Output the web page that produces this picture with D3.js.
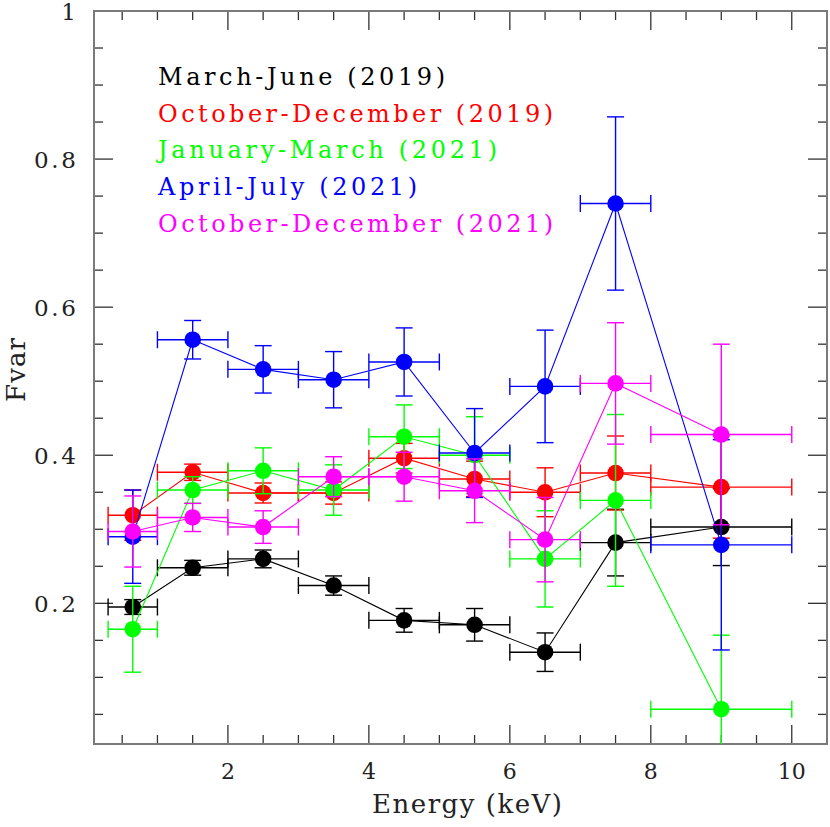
<!DOCTYPE html>
<html><head><meta charset="utf-8">
<script src="https://cdn.jsdelivr.net/npm/d3@7"></script>
<style>html,body{margin:0;padding:0;background:#fff;}</style>
</head><body>
<svg id="chart" width="830" height="827"></svg>
<script>
// ---- data ----
const energyCenters = [0.65, 1.5, 2.5, 3.5, 4.5, 5.5, 6.5, 7.5, 9.0];
const energyLow     = [0.3, 1, 2, 3, 4, 5, 6, 7, 8];
const energyHigh    = [1, 2, 3, 4, 5, 6, 7, 8, 10];

const seriesNames = ["March-June (2019)", "October-December (2019)", "January-March (2021)", "April-July (2021)", "October-December (2021)"];
const seriesColors = ["#000000", "#ff0000", "#00ff00", "#0000ff", "#ff00ff"];

const fvarMarJun2019 = [0.195, 0.248, 0.260, 0.224, 0.177, 0.171, 0.134, 0.282, 0.303];
const errMarJun2019  = [0.010, 0.010, 0.012, 0.013, 0.016, 0.022, 0.026, 0.045, 0.052];
const fvarOctDec2019 = [0.319, 0.377, 0.349, 0.349, 0.396, 0.368, 0.350, 0.376, 0.357];
const errOctDec2019  = [0.034, 0.011, 0.0135, 0.015, 0.020, 0.024, 0.033, 0.050, 0.069];
const fvarJanMar2021 = [0.165, 0.353, 0.379, 0.353, 0.425, 0.400, 0.260, 0.339, 0.057];
const errJanMar2021  = [0.058, 0.018, 0.031, 0.034, 0.043, 0.052, 0.065, 0.116, 0.100];
const fvarAprJul2021 = [0.290, 0.556, 0.516, 0.502, 0.526, 0.403, 0.493, 0.740, 0.279];
const errAprJul2021  = [0.063, 0.026, 0.032, 0.038, 0.046, 0.060, 0.076, 0.117, 0.142];
const fvarOctDec2021 = [0.297, 0.316, 0.303, 0.371, 0.371, 0.352, 0.286, 0.497, 0.428];
const errOctDec2021  = [0.048, 0.019, 0.022, 0.027, 0.033, 0.043, 0.057, 0.082, 0.122];

const xMajorTicks = [2, 4, 6, 8, 10];
const yMajorTicks = [0.2, 0.4, 0.6, 0.8, 1];
const yTickLabels = ["0.2", "0.4", "0.6", "0.8", "1"];
const xTickLabels = ["2", "4", "6", "8", "10"];

const xTitle = "Energy (keV)";
const yTitle = "Fvar";

// ---- layout ----
const L = 94, R = 827, T = 11, B = 744;
const svg = d3.select("#chart");
const x = d3.scaleLinear().domain([0.1, 10.5]).range([L, R]);
const y = d3.scaleLinear().domain([0.01, 1]).range([B, T]);
const FONT = "'DejaVu Serif', 'Liberation Serif', serif";

const allFvar = [fvarMarJun2019, fvarOctDec2019, fvarJanMar2021, fvarAprJul2021, fvarOctDec2021];
const allErr = [errMarJun2019, errOctDec2019, errJanMar2021, errAprJul2021, errOctDec2021];

svg.append("defs").append("clipPath").attr("id", "clip")
  .append("rect").attr("x", L).attr("y", T).attr("width", R - L).attr("height", B - T);

// ---- ticks (inward on all sides) ----
const tickG = svg.append("g").attr("stroke", "#333").attr("stroke-width", 1.3);
const xMinor = d3.range(0.5, 10.51, 0.5).filter(v => Math.abs(v / 2 - Math.round(v / 2)) > 1e-6);
const yMinor = d3.range(0.05, 1.001, 0.05).filter(v => Math.abs(v / 0.2 - Math.round(v / 0.2)) > 1e-6);
const MAJ = 19, MIN = 9;
xMajorTicks.forEach(v => {
  tickG.append("line").attr("x1", x(v)).attr("x2", x(v)).attr("y1", B).attr("y2", B - MAJ);
  tickG.append("line").attr("x1", x(v)).attr("x2", x(v)).attr("y1", T).attr("y2", T + MAJ);
});
xMinor.forEach(v => {
  tickG.append("line").attr("x1", x(v)).attr("x2", x(v)).attr("y1", B).attr("y2", B - MIN);
  tickG.append("line").attr("x1", x(v)).attr("x2", x(v)).attr("y1", T).attr("y2", T + MIN);
});
yMajorTicks.forEach(v => {
  tickG.append("line").attr("x1", L).attr("x2", L + MAJ).attr("y1", y(v)).attr("y2", y(v));
  tickG.append("line").attr("x1", R).attr("x2", R - MAJ).attr("y1", y(v)).attr("y2", y(v));
});
yMinor.forEach(v => {
  tickG.append("line").attr("x1", L).attr("x2", L + MIN).attr("y1", y(v)).attr("y2", y(v));
  tickG.append("line").attr("x1", R).attr("x2", R - MIN).attr("y1", y(v)).attr("y2", y(v));
});

// frame
svg.append("rect").attr("x", L).attr("y", T).attr("width", R - L).attr("height", B - T)
  .attr("fill", "none").attr("stroke", "#7a7a7a").attr("stroke-width", 2);

// tick labels
xMajorTicks.forEach((v, i) => {
  svg.append("text").attr("x", x(v)).attr("y", 779).attr("text-anchor", "middle")
    .attr("font-family", FONT).attr("font-size", 22).attr("fill", "#222").text(xTickLabels[i]);
});
yMajorTicks.forEach((v, i) => {
  const t = svg.append("text").attr("x", 76).attr("y", y(v) + 8.5).attr("text-anchor", "end")
    .attr("font-family", FONT).attr("font-size", 23).attr("fill", "#222").text(yTickLabels[i]);
  if (yTickLabels[i].length > 1) t.attr("textLength", 42).attr("lengthAdjust", "spacing");
});

// axis titles
svg.append("text").attr("x", 372).attr("y", 813)
  .attr("font-family", FONT).attr("font-size", 26).attr("fill", "#222")
  .attr("textLength", 190).attr("lengthAdjust", "spacing").text(xTitle);
svg.append("text").attr("transform", "translate(25,402) rotate(-90)")
  .attr("font-family", FONT).attr("font-size", 26).attr("fill", "#222")
  .attr("textLength", 64).attr("lengthAdjust", "spacing").text(yTitle);

// ---- series ----
const plot = svg.append("g").attr("clip-path", "url(#clip)");
const CAP = 8.5;
allFvar.forEach((vals, s) => {
  const col = seriesColors[s];
  const errs = allErr[s];
  const g = plot.append("g");
  const pts = vals.map((v, i) => ({ e: energyCenters[i], lo: energyLow[i], hi: energyHigh[i], v, err: errs[i] }));
  g.append("path").datum(pts)
    .attr("d", d3.line().x(d => x(d.e)).y(d => y(d.v)))
    .attr("fill", "none").attr("stroke", col).attr("stroke-width", 1.1);
  pts.forEach(d => {
    const eg = g.append("g").attr("stroke", col).attr("stroke-width", 1.4);
    eg.append("line").attr("x1", x(d.lo)).attr("x2", x(d.hi)).attr("y1", y(d.v)).attr("y2", y(d.v));
    eg.append("line").attr("x1", x(d.lo)).attr("x2", x(d.lo)).attr("y1", y(d.v) - CAP).attr("y2", y(d.v) + CAP);
    eg.append("line").attr("x1", x(d.hi)).attr("x2", x(d.hi)).attr("y1", y(d.v) - CAP).attr("y2", y(d.v) + CAP);
    eg.append("line").attr("x1", x(d.e)).attr("x2", x(d.e)).attr("y1", y(d.v - d.err)).attr("y2", y(d.v + d.err));
    eg.append("line").attr("x1", x(d.e) - CAP).attr("x2", x(d.e) + CAP).attr("y1", y(d.v - d.err)).attr("y2", y(d.v - d.err));
    eg.append("line").attr("x1", x(d.e) - CAP).attr("x2", x(d.e) + CAP).attr("y1", y(d.v + d.err)).attr("y2", y(d.v + d.err));
    g.append("circle").attr("cx", x(d.e)).attr("cy", y(d.v)).attr("r", 8.3).attr("fill", col);
  });
});

// ---- legend ----
const legendWidths = [287, 395, 339, 259, 395];
seriesNames.forEach((name, i) => {
  svg.append("text").attr("x", 158).attr("y", 85 + i * 36.7)
    .attr("font-family", FONT).attr("font-size", 24).attr("fill", seriesColors[i])
    .attr("textLength", legendWidths[i]).attr("lengthAdjust", "spacing").text(name);
});
</script>
</body></html>
